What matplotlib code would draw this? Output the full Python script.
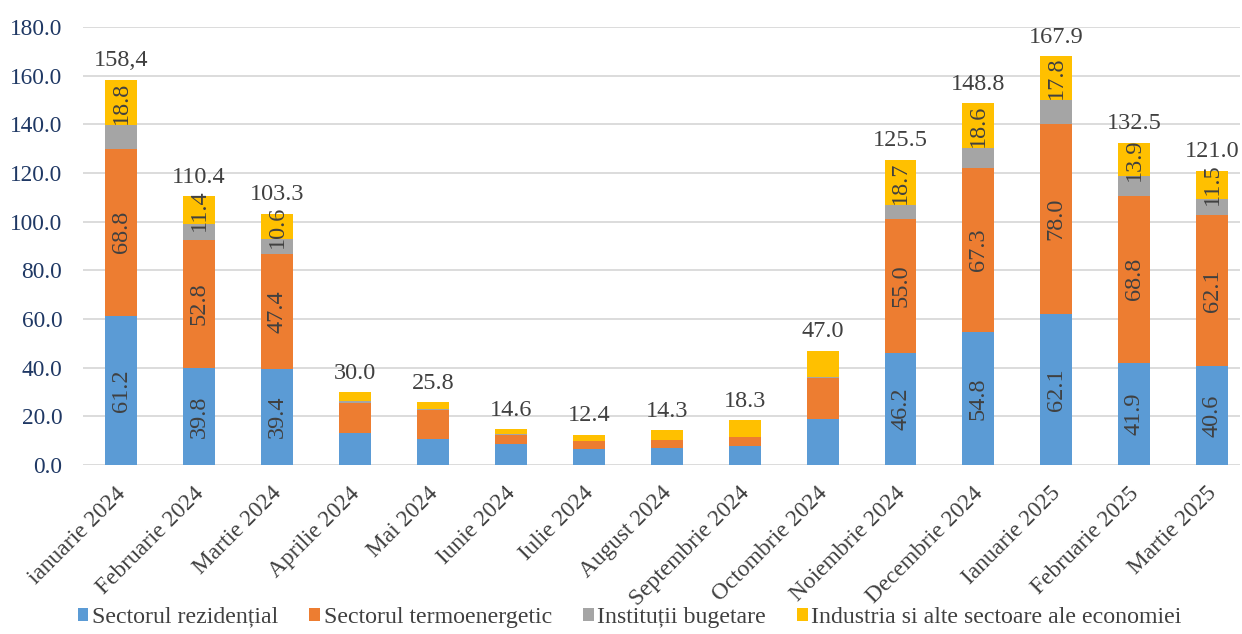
import matplotlib
matplotlib.use("Agg")
import matplotlib.pyplot as plt
import numpy as np
from matplotlib.transforms import ScaledTranslation

categories = ["ianuarie 2024", "Februarie 2024", "Martie 2024", "Aprilie 2024", "Mai 2024",
              "Iunie 2024", "Iulie 2024", "August 2024", "Septembrie 2024", "Octombrie 2024",
              "Noiembrie 2024", "Decembrie 2024", "Ianuarie 2025", "Februarie 2025", "Martie 2025"]
rezidential = [61.2, 39.8, 39.4, 13.2, 10.7, 8.7, 6.6, 7.1, 7.9, 18.9, 46.2, 54.8, 62.1, 41.9, 40.6]
termoenergetic = [68.8, 52.8, 47.4, 12.3, 12.0, 3.6, 3.2, 3.1, 3.6, 16.9, 55.0, 67.3, 78.0, 68.8, 62.1]
bugetare = [9.6, 6.4, 5.9, 0.6, 0.4, 0.4, 0.1, 0.1, 0.1, 0.4, 5.6, 8.1, 10.0, 7.9, 6.8]
industrie = [18.8, 11.4, 10.6, 3.9, 2.7, 1.9, 2.5, 4.0, 6.7, 10.8, 18.7, 18.6, 17.8, 13.9, 11.5]
totals = ["158,4", "110.4", "103.3", "30.0", "25.8", "14.6", "12.4", "14.3", "18.3", "47.0",
          "125.5", "148.8", "167.9", "132.5", "121.0"]
series_names = ["Sectorul rezidențial", "Sectorul termoenergetic", "Instituții bugetare",
                "Industria si alte sectoare ale economiei"]
yticks = [0, 20, 40, 60, 80, 100, 120, 140, 160, 180]
labeled = [0, 1, 2, 10, 11, 12, 13, 14]

colors = ["#5B9BD5", "#ED7D31", "#A5A5A5", "#FFC000"]
serif = ["Liberation Serif", "DejaVu Serif"]
plt.rcParams["font.family"] = serif

fig = plt.figure(figsize=(12.42, 6.34), dpi=100)
ax = fig.add_axes([83/1242, 1-465/634, 1-83/1242-0.002, (465-27)/634])

x = np.arange(len(categories))
w = 0.41
data = [rezidential, termoenergetic, bugetare, industrie]
bottom = np.zeros(len(categories))
bars = []
for vals, c, name in zip(data, colors, series_names):
    v = np.array(vals)
    b = ax.bar(x, v, w, bottom=bottom, color=c, label=name, zorder=3)
    bars.append((b, v, bottom.copy()))
    bottom = bottom + v

txtc = "#404040"
for si in (0, 1, 3):
    b, v, bot = bars[si]
    for i in labeled:
        ax.text(x[i], bot[i] + v[i]/2, f"{v[i]:.1f}", rotation=90, ha="center", va="center",
                fontsize=17.5, color=txtc, zorder=4)

for i in range(len(categories)):
    ax.annotate(totals[i], (x[i], bottom[i]), xytext=(0, 6), textcoords="offset points",
                ha="center", va="bottom", fontsize=17.5, color=txtc)

ax.set_ylim(0, 180)
ax.set_xlim(-0.49, 14.35)
ax.set_yticks(yticks)
ax.set_yticklabels([f"{t:.1f}" for t in yticks], fontsize=16.8, color="#1F3864")
ax.yaxis.grid(True, color="#D9D9D9", linewidth=1.3, zorder=0)
ax.tick_params(axis="y", length=0, pad=15)
ax.tick_params(axis="x", length=0, pad=2)
for s in ax.spines.values():
    s.set_visible(False)
ax.set_xticks(x)
ax.set_xticklabels(categories, rotation=45, ha="right", va="top", rotation_mode="anchor",
                   fontsize=16.8, color=txtc)
off = ScaledTranslation(-6/100, -15/100, fig.dpi_scale_trans)
for lab in ax.get_xticklabels():
    lab.set_transform(lab.get_transform() + off)

leg = fig.legend(loc="lower center", bbox_to_anchor=(0.507, -0.024), ncol=4, frameon=False,
                 fontsize=17.2, handlelength=0.45, handleheight=0.45, handletextpad=0.15,
                 columnspacing=1.3, labelcolor=txtc)

fig.savefig("out.png", dpi=100)
